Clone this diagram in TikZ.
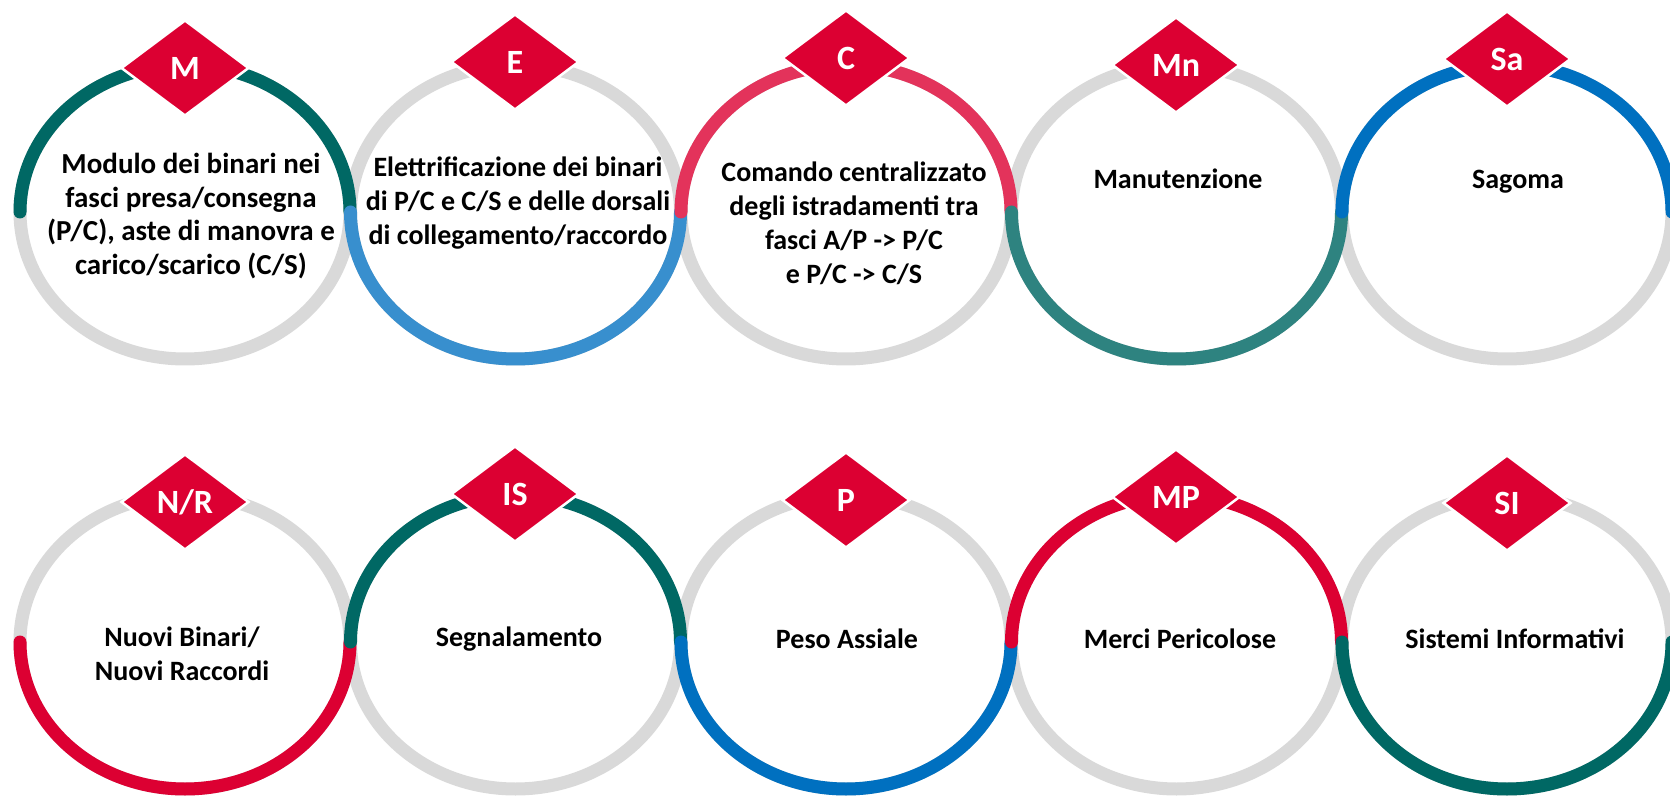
\documentclass[tikz,border=0pt]{standalone}
\usepackage{fontspec}
\setmainfont{Carlito}
\usetikzlibrary{shapes.geometric}
\definecolor{fsred}{RGB}{220,0,50}
\definecolor{fsteal}{RGB}{0,104,100}
\definecolor{fsblue}{RGB}{0,112,192}
\colorlet{fsredT}{fsred!80!white}
\colorlet{fstealT}{fsteal!82!white}
\colorlet{fsblueT}{fsblue!78!white}
\colorlet{ringgray}{black!15}
\begin{document}
\begin{tikzpicture}[x=1pt,y=1pt,
  ringbase/.style={draw=ringgray,line width=13pt},
  band/.style={line width=13pt,line cap=round},
  badge/.style={shape=diamond,fill=fsred,draw=white,line width=2.5pt,minimum width=128pt,minimum height=96pt,inner sep=0pt,text=white,font=\bfseries\fontsize{34}{40}\selectfont},
  txt/.style={align=center,font=\bfseries\fontsize{28}{34}\selectfont},
  bigtxt/.style={align=center,font=\bfseries\fontsize{29}{33.5}\selectfont}]
\useasboundingbox (0,0) rectangle (1670,796);
\clip (0,0) rectangle (1670,796);
% ring centres
\coordinate (cM)  at (185,584);
\coordinate (cE)  at (515.5,584);
\coordinate (cC)  at (846,584);
\coordinate (cMn) at (1176.5,584);
\coordinate (cSa) at (1507,584);
\coordinate (cNR) at (185,154);
\coordinate (cIS) at (515.5,154);
\coordinate (cP)  at (846,154);
\coordinate (cMP) at (1176.5,154);
\coordinate (cSI) at (1507,154);
% grey rings
\foreach \c in {cM,cE,cC,cMn,cSa,cNR,cIS,cP,cMP,cSI}
  \draw[ringbase] (\c) ellipse [x radius=165pt, y radius=147pt];
% coloured half rings
\draw[band,draw=fsteal]  ([shift={(180:165pt and 147pt)}]cM)  arc[start angle=180,end angle=0,x radius=165pt,y radius=147pt];
\draw[band,draw=fsblueT] ([shift={(180:165pt and 147pt)}]cE)  arc[start angle=180,end angle=360,x radius=165pt,y radius=147pt];
\draw[band,draw=fsredT]  ([shift={(180:165pt and 147pt)}]cC)  arc[start angle=180,end angle=0,x radius=165pt,y radius=147pt];
\draw[band,draw=fstealT] ([shift={(180:165pt and 147pt)}]cMn) arc[start angle=180,end angle=360,x radius=165pt,y radius=147pt];
\draw[band,draw=fsblue]  ([shift={(180:165pt and 147pt)}]cSa) arc[start angle=180,end angle=0,x radius=165pt,y radius=147pt];
\draw[band,draw=fsred]   ([shift={(180:165pt and 147pt)}]cNR) arc[start angle=180,end angle=360,x radius=165pt,y radius=147pt];
\draw[band,draw=fsteal]  ([shift={(180:165pt and 147pt)}]cIS) arc[start angle=180,end angle=0,x radius=165pt,y radius=147pt];
\draw[band,draw=fsblue]  ([shift={(180:165pt and 147pt)}]cP)  arc[start angle=180,end angle=360,x radius=165pt,y radius=147pt];
\draw[band,draw=fsred]   ([shift={(180:165pt and 147pt)}]cMP) arc[start angle=180,end angle=0,x radius=165pt,y radius=147pt];
\draw[band,draw=fsteal]  ([shift={(180:165pt and 147pt)}]cSI) arc[start angle=180,end angle=360,x radius=165pt,y radius=147pt];
% badges
\node[badge] (bM)  at (185,728) {M};
\node[badge] (bE)  at (515,734) {E};
\node[badge] (bC)  at (846,738) {C};
\node[badge] (bMn) at (1176,731) {Mn};
\node[badge] (bSa) at (1507,737) {Sa};
\node[badge] (bNR) at (185,294) {N/R};
\node[badge] (bIS) at (515,302) {IS};
\node[badge] (bP)  at (846,296) {P};
\node[badge] (bMP) at (1176,299) {MP};
\node[badge] (bSI) at (1507,293) {SI};
% texts
\node[bigtxt] (tM)  at (191,580) {Modulo dei binari nei\\fasci presa/consegna\\(P/C), aste di manovra e\\carico/scarico (C/S)};
\node[txt] (tE)  at (518,593) {Elettrificazione dei binari\\di P/C e C/S e delle dorsali\\di collegamento/raccordo};
\node[txt] (tC)  at (854,573) {Comando centralizzato\\degli istradamenti tra\\fasci A/P -> P/C\\e P/C -> C/S};
\node[txt] (tMn) at (1178,617) {Manutenzione};
\node[txt] (tSa) at (1518,614) {Sagoma};
\node[txt] (tNR) at (182,142) {Nuovi Binari/\\Nuovi Raccordi};
\node[txt] (tIS) at (519,157) {Segnalamento};
\node[txt] (tP)  at (847,157) {Peso Assiale};
\node[txt] (tMP) at (1180,157) {Merci Pericolose};
\node[txt] (tSI) at (1515,157) {Sistemi Informativi};
\end{tikzpicture}
\end{document}
